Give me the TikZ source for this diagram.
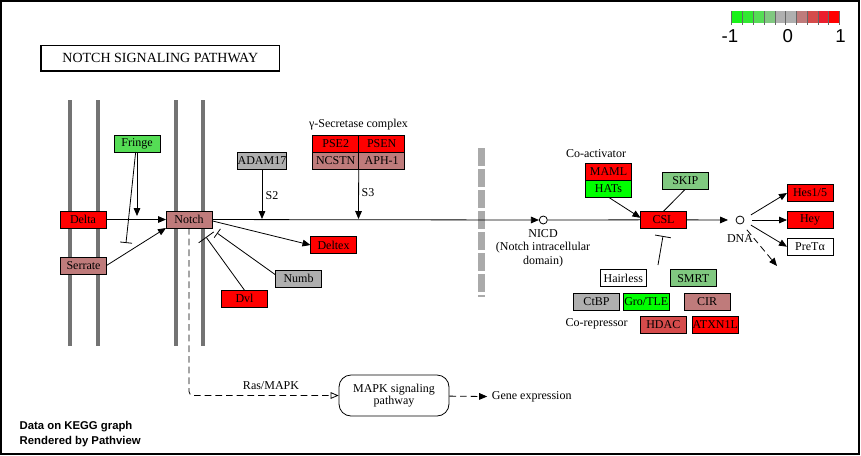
\documentclass[tikz,border=0pt]{standalone}
\usepackage{fontspec}
\setmainfont{Liberation Serif}
\newfontfamily\legendfont{Liberation Sans}
\usetikzlibrary{arrows.meta, positioning}

\definecolor{upHigh}{RGB}{255,0,0}
\definecolor{upMid}{RGB}{213,75,75}
\definecolor{upLow}{RGB}{191,123,123}
\definecolor{zeroGray}{RGB}{175,175,175}
\definecolor{downLow}{RGB}{128,200,128}
\definecolor{downMid}{RGB}{85,221,85}
\definecolor{downHigh}{RGB}{0,255,0}
\definecolor{legA}{RGB}{25,242,25}
\definecolor{legB}{RGB}{50,232,50}
\definecolor{legI}{RGB}{235,30,45}
\definecolor{memGray}{RGB}{115,115,115}
\definecolor{nucGray}{RGB}{170,170,170}

\begin{document}
\begin{tikzpicture}[
    x=0.75pt, y=-0.75pt,
    font=\fontsize{9}{10}\selectfont,
    genebox/.style={draw, line width=0.75pt, minimum width=34.5pt, minimum height=12.75pt, inner sep=0pt, outer sep=0pt},
    dotnode/.style={draw, circle, line width=0.6pt, inner sep=0pt, minimum size=6pt},
    membrane/.style={draw=memGray, line width=3.5pt},
    arr/.style={-{Triangle[length=6pt, width=5pt]}, line width=0.6pt},
    inh/.style={-{Bar[width=#1]}, line width=0.6pt},
    inh/.default=9pt,
    dasharr/.style={arr, dash pattern=on 5pt off 3pt},
]
\useasboundingbox (0,0) rectangle (861,455);
\draw[line width=1.2pt] (1,1) rectangle (859,454);

% Membranes
\foreach \mx in {70,98,176,203}
  \draw[membrane] (\mx,100) -- (\mx,346);
\draw[draw=nucGray, line width=5.25pt, dash pattern=on 13.5pt off 2.25pt] (481,148) -- (481,297);

% Title
\node[draw, line width=1pt, minimum width=179pt, minimum height=19pt, font=\fontsize{10.5}{12}\selectfont] (title) at (160.3,58.3) {NOTCH SIGNALING PATHWAY};

% Ligands and receptor
\node[genebox, fill=upHigh] (delta) at (83,219.5) {Delta};
\node[genebox, fill=upLow] (serrate) at (83.5,265.5) {Serrate};
\node[genebox, fill=downMid] (fringe) at (137,143.5) {Fringe};
\node[genebox, fill=upLow] (notch) at (189,219.5) {Notch};

% Proteases
\node[genebox, fill=zeroGray] (adam) at (262,160.5) {ADAM17};
\node[genebox, fill=upHigh] (pse2) at (335.7,144) {PSE2};
\node[genebox, fill=upHigh, right=0pt of pse2] (psen) {PSEN};
\node[genebox, fill=upLow, below=0pt of pse2] (ncstn) {NCSTN};
\node[genebox, fill=upLow, right=0pt of ncstn] (aph) {APH-1};
\node (gsecLbl) at (358.5,125) {γ-Secretase complex};
\node (s2Lbl) at (272,196) {S2};
\node (s3Lbl) at (368,193) {S3};

% Cytoplasmic partners
\node[genebox, fill=upHigh] (deltex) at (333.5,245) {Deltex};
\node[genebox, fill=zeroGray] (numb) at (298.5,278.8) {Numb};
\node[genebox, fill=upHigh] (dvl) at (244.5,298.7) {Dvl};

% Nucleus
\node[dotnode] (nicd) at (543.3,220) {};
\node[align=center] (nicdLbl) at (543,248) {NICD\\(Notch intracellular\\domain)};
\node[genebox, fill=upHigh] (maml) at (608.5,171.7) {MAML};
\node[genebox, fill=downHigh, below=0pt of maml] (hats) {HATs};
\node (coactLbl) at (596,154) {Co-activator};
\node[genebox, fill=upHigh] (csl) at (663.5,219.8) {CSL};
\node[genebox, fill=downLow] (skip) at (685.3,180.7) {SKIP};
\node[dotnode, outer sep=6pt] (dna) at (740,220) {};
\node (dnaLbl) at (740,239) {DNA};
\node[genebox, fill=upHigh] (hes) at (810,193) {Hes1/5};
\node[genebox, fill=upHigh] (hey) at (810,220) {Hey};
\node[genebox, fill=white] (pret) at (810,246.7) {PreTα};

% Co-repressors
\node[genebox, fill=white] (hairless) at (623.3,278.3) {Hairless};
\node[genebox, fill=downLow] (smrt) at (693.3,278.3) {SMRT};
\node[genebox, fill=zeroGray] (ctbp) at (596.5,301.7) {CtBP};
\node[genebox, fill=downHigh] (gro) at (646.3,301.7) {Gro/TLE};
\node[genebox, fill=upLow] (cir) at (707,301.7) {CIR};
\node[genebox, fill=upMid] (hdac) at (663.3,325) {HDAC};
\node[genebox, fill=upHigh] (atxn) at (715.3,325) {ATXN1L};
\node (corepLbl) at (596.7,323.3) {Co-repressor};

% MAPK branch
\node[draw, rounded corners=9pt, line width=0.6pt, minimum width=82.5pt, minimum height=30.75pt, align=center, font=\fontsize{9}{9}\selectfont] (mapk) at (394,395.5) {MAPK signaling\\pathway};
\node (genex) at (531.7,397) {Gene expression};
\node (rasLbl) at (271,386) {Ras/MAPK};

% Edges at the membrane
\draw[arr] (delta) -- (notch);
\draw[arr] (serrate.east) -- (notch.south west);
\coordinate (fringeTip) at (137,216);
\draw[arr] (fringe) -- (fringeTip);
\coordinate (fringeBar) at (126,243);
\draw[inh] ([xshift=-1pt]fringe.south) -- (fringeBar);
\coordinate (s2Tip) at (262,219);
\draw[arr] (adam) -- (s2Tip);
\coordinate (s3Tip) at (358.5,219);
\draw[arr] (ncstn.south east) -- (s3Tip);
\draw[arr] (notch) -- (nicd);
\draw[arr] ([yshift=-1pt]notch.east) -- (deltex.west);
\coordinate (dvlBar) at (206,237);
\draw[inh=14pt] (dvl.north) -- (dvlBar);
\coordinate (numbBar) at (217,233);
\draw[inh=8pt] ([yshift=3pt]numb.west) -- (numbBar);
\draw[dash pattern=on 5pt off 3pt, rounded corners=3pt, line width=0.6pt, -{Triangle[open, length=6pt, width=5pt]}] (notch.south) |- (mapk.west);
\draw[dasharr] (mapk) -- (genex);

% Edges in the nucleus
\draw[line width=0.6pt] (nicd) -- (csl);
\draw[arr] (hats.south) -- ([yshift=1.5pt]csl.west);
\draw[line width=0.6pt] (skip.south) -- (csl.north);
\draw[arr] (csl) -- (dna);
\draw[arr] (dna.25) -- (hes.west);
\draw[arr] (dna) -- (hey);
\draw[arr] (dna.-25) -- (pret.west);
\coordinate (dnaOut) at (777,266);
\draw[dasharr] (dna.-55) -- (dnaOut);
\coordinate (repStart) at (658,265);
\coordinate (cslBar) at (663,236);
\draw[inh=12pt] (repStart) -- (cslBar);

% Legend
\foreach \c [count=\i from 0] in {legA,legB,downMid,downLow,zeroGray,zeroGray,upLow,upMid,legI,upHigh}
  \fill[\c] (731.7+10.77*\i,11) rectangle ++(10.77,12.3);
\foreach \i in {0,...,10}
  \draw[black!60, line width=0.4pt] (731.7+10.77*\i,11) -- ++(0,14);
\node[font=\legendfont\fontsize{14}{14}\selectfont] (legMin) at (730,36) {-1};
\node[font=\legendfont\fontsize{14}{14}\selectfont] (legMid) at (787.7,36) {0};
\node[font=\legendfont\fontsize{14}{14}\selectfont] (legMax) at (840.5,36) {1};

% Credit
\node[anchor=west, align=left, font=\legendfont\bfseries\fontsize{8.5}{11}\selectfont] (credit) at (15,434) {Data on KEGG graph\\Rendered by Pathview};
\end{tikzpicture}
\end{document}
